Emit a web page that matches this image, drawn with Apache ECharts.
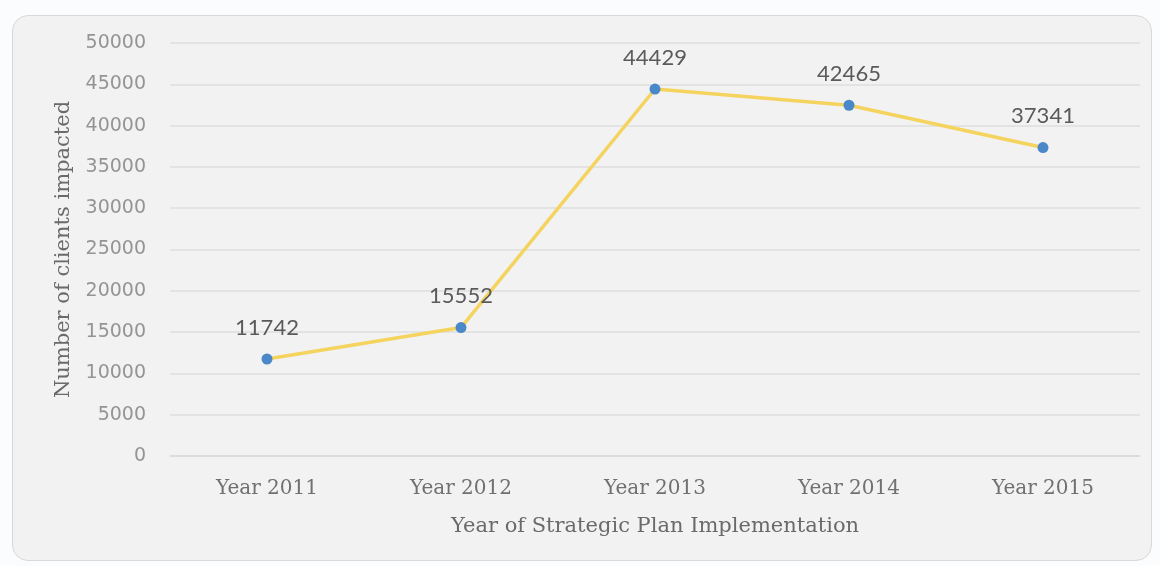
<!DOCTYPE html>
<html>
<head>
<meta charset="utf-8">
<script src="https://cdn.jsdelivr.net/npm/echarts@6/dist/echarts.min.js"></script>
<style>
  html, body { margin: 0; padding: 0; width: 1160px; height: 566px; background: #fbfcfe; overflow: hidden; }
  #frame {
    position: absolute; left: 12px; top: 15px; width: 1140px; height: 546px;
    background: #f2f2f2; border: 1px solid #d9d9d9; border-radius: 16px; box-sizing: border-box;
  }
  #chart { position: absolute; left: 0; top: 0; width: 1160px; height: 566px; }
</style>
</head>
<body>
<div id="frame"></div>
<div id="chart"></div>
<script>
// Clients impacted per year of the strategic plan
const categories = ['Year 2011', 'Year 2012', 'Year 2013', 'Year 2014', 'Year 2015'];
const clients = [11742, 15552, 44429, 42465, 37341];
const yTicks = { min: 0, max: 50000, interval: 5000 };

const chart = echarts.init(document.getElementById('chart'));
chart.setOption({
  animation: false,
  grid: { left: 170, right: 20, top: 43, bottom: 110 },
  xAxis: {
    type: 'category',
    data: categories,
    name: 'Year of Strategic Plan Implementation',
    nameLocation: 'middle',
    nameGap: 60,
    nameTextStyle: { fontFamily: 'DejaVu Serif', fontSize: 21, color: '#6a6a6a' },
    axisLine: { show: true, lineStyle: { color: '#d9d9d9', width: 1.5 } },
    axisTick: { show: false },
    axisLabel: { fontFamily: 'DejaVu Serif', fontSize: 20, color: '#707070', margin: 23 }
  },
  yAxis: {
    type: 'value',
    min: yTicks.min, max: yTicks.max, interval: yTicks.interval,
    name: 'Number of clients impacted',
    nameLocation: 'middle',
    nameGap: 96,
    nameTextStyle: { fontFamily: 'DejaVu Serif', fontSize: 21, color: '#6a6a6a' },
    axisLine: { show: false },
    axisTick: { show: false },
    axisLabel: {
      fontFamily: 'DejaVu Sans', fontSize: 19, color: '#949494', margin: 24,
      formatter: (v) => String(v)
    },
    splitLine: { lineStyle: { color: '#dedede', width: 1.5 } }
  },
  series: [{
    type: 'line',
    data: clients,
    symbol: 'circle',
    symbolSize: 11,
    itemStyle: { color: '#4a88c9' },
    lineStyle: { color: '#f4d35e', width: 3.5 },
    label: {
      show: true, position: 'top', distance: 15,
      fontFamily: 'Lato', fontSize: 22, color: '#5a5a5a'
    }
  }]
});
</script>
</body>
</html>
